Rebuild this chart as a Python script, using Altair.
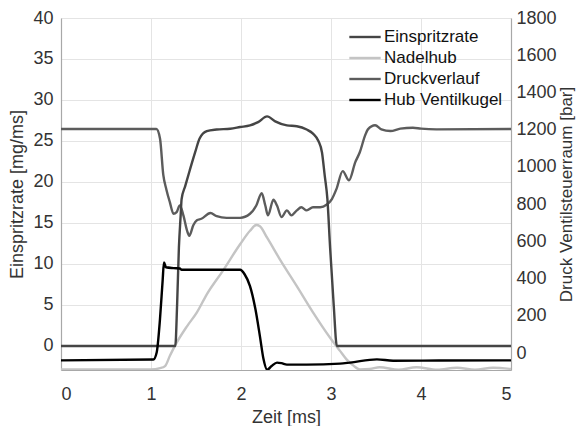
import altair as alt
import pandas as pd

# ---- data ----
series_names = ["Einspritzrate", "Nadelhub", "Druckverlauf", "Hub Ventilkugel"]
series_colors = ["#454545", "#c4c4c4", "#5c5c5c", "#000000"]

# Einspritzrate [mg/ms]
t_einspritz = [0.0, 1.27, 1.29, 1.31, 1.33, 1.34, 1.38, 1.43, 1.49, 1.54, 1.62, 1.73, 1.88, 1.99,
               2.10, 2.19, 2.29, 2.38, 2.51, 2.62, 2.73, 2.80, 2.86, 2.90, 2.93, 2.96, 2.99, 3.03,
               3.065, 3.5, 5.0]
v_einspritz = [0.0, 0.0, 5.0, 12.0, 16.0, 17.9, 19.5, 21.4, 23.6, 25.3, 26.2, 26.4, 26.5, 26.7,
               26.9, 27.3, 28.0, 27.4, 26.9, 26.8, 26.4, 25.9, 25.0, 23.6, 20.8, 17.9, 12.0, 5.0,
               0.0, 0.0, 0.0]

# Nadelhub (left axis units)
t_nadel = [0.0, 1.0, 1.10, 1.156, 1.21, 1.285, 1.40, 1.51, 1.62, 1.80, 1.99, 2.10, 2.17, 2.21,
           2.29, 2.43, 2.62, 2.80, 2.99, 3.10, 3.17, 3.25, 3.32, 3.43, 3.54, 3.75, 3.95, 4.18,
           4.40, 4.60, 4.80, 5.0]
v_nadel = [-2.85, -2.85, -2.7, -2.45, -1.2, 0.4, 2.4, 4.1, 6.3, 9.2, 12.4, 14.05, 14.75, 14.6,
           13.2, 10.6, 7.3, 4.1, 1.0, -0.6, -1.6, -2.4, -2.85, -2.8, -2.6, -2.9, -2.6, -2.9,
           -2.65, -2.9, -2.65, -2.8]

# Druckverlauf [bar] (right axis)
t_druck = [0.0, 1.06, 1.10, 1.137, 1.17, 1.21, 1.25, 1.285, 1.32, 1.36, 1.40, 1.425, 1.47, 1.51,
           1.56, 1.66, 1.73, 1.84, 1.99, 2.10, 2.17, 2.23, 2.27, 2.30, 2.36, 2.40, 2.45, 2.51,
           2.56, 2.62, 2.67, 2.73, 2.80, 2.88, 2.95, 3.01, 3.06, 3.13, 3.20, 3.27, 3.32, 3.38,
           3.41, 3.49, 3.56, 3.66, 3.77, 3.91, 4.00, 4.17, 5.0]
v_druck = [1204, 1204, 1153, 956, 881, 810, 749, 758, 793, 740, 659, 630, 687, 714,
           722, 753, 736, 727, 727, 749, 793, 859, 793, 740, 824, 793, 731, 767,
           740, 767, 784, 767, 784, 784, 797, 828, 881, 978, 929, 1026, 1079, 1171,
           1202, 1224, 1202, 1193, 1206, 1211, 1206, 1202, 1204]

# Hub Ventilkugel (left axis units)
t_hub = [0.0, 1.026, 1.063, 1.10, 1.13, 1.144, 1.167, 1.25, 1.32, 1.34, 1.62, 1.99, 2.04, 2.10,
         2.16, 2.21, 2.25, 2.29, 2.34, 2.40, 2.45, 2.51, 2.73, 3.10, 3.21, 3.51, 3.69, 4.2, 5.0]
v_hub = [-1.75, -1.65, -0.8, 3.3, 8.1, 10.2, 9.6, 9.5, 9.45, 9.3, 9.3, 9.3, 8.75, 7.3,
         4.5, 1.2, -1.6, -2.9, -2.44, -2.03, -2.1, -2.27, -2.27, -2.15, -2.03, -1.63, -1.8, -1.78, -1.75]

left_ticks = [0, 5, 10, 15, 20, 25, 30, 35, 40]
right_ticks = [0, 200, 400, 600, 800, 1000, 1200, 1400, 1600, 1800]
x_ticks = [0, 1, 2, 3, 4, 5]

LEFT_DOMAIN = [-2.93, 40]
RIGHT_DOMAIN = [-90, 1800]

def frame(t, v, name):
    return pd.DataFrame({"t": t, "v": v, "series": [name] * len(t)})

df_e = frame(t_einspritz, v_einspritz, "Einspritzrate")
df_n = frame(t_nadel, v_nadel, "Nadelhub")
df_d = frame(t_druck, v_druck, "Druckverlauf")
df_h = frame(t_hub, v_hub, "Hub Ventilkugel")

color = alt.Color("series:N", scale=alt.Scale(domain=series_names, range=series_colors),
                  title=None)

x_enc = alt.X("t:Q", scale=alt.Scale(domain=[0, 5], nice=False),
              axis=alt.Axis(values=x_ticks, title="Zeit [ms]", format="d",
                            titleY=52, titleBaseline="alphabetic"))

left_axis = alt.Axis(values=left_ticks, title="Einspritzrate [mg/ms]", orient="left",
                     grid=True, format="d")
right_axis = alt.Axis(values=right_ticks, title="Druck Ventilsteuerraum [bar]", orient="right",
                      grid=False, titleAngle=270, titleBaseline="top", format="d",
                      titleFontSize=17)

def left_line(df, axis):
    return alt.Chart(df).mark_line(strokeWidth=2.4, clip=True, interpolate="monotone").encode(
        x=x_enc,
        y=alt.Y("v:Q", scale=alt.Scale(domain=LEFT_DOMAIN, nice=False, zero=False), axis=axis),
        color=color,
    )

nadel = left_line(df_n, left_axis)
einspritz = left_line(df_e, None)
hub = left_line(df_h, None)
druck = alt.Chart(df_d).mark_line(strokeWidth=2.4, clip=True, interpolate="monotone").encode(
    x=x_enc,
    y=alt.Y("v:Q", scale=alt.Scale(domain=RIGHT_DOMAIN, nice=False, zero=False), axis=right_axis),
    color=color,
)

chart = alt.layer(nadel, druck, einspritz, hub).resolve_scale(y="independent").properties(
    width=450, height=352,
    autosize=alt.AutoSizeParams(type="none"),
    padding={"left": 53, "top": 10, "right": 68, "bottom": 56},
).configure(
    font="Liberation Sans",
).configure_view(
    stroke=None,
).configure_axis(
    labelFontSize=18, titleFontSize=18, labelColor="#333333", titleColor="#333333",
    titleFontWeight="normal", domainColor="#a8a8a8", domainWidth=1.2,
    gridColor="#e4e4e4", gridWidth=1, ticks=False, tickSize=0, labelPadding=8,
).configure_axisX(
    labelPadding=15,
).configure_axisLeft(
    titlePadding=6,
).configure_axisRight(
    titlePadding=2, labelPadding=5,
).configure_legend(
    orient="none", legendX=293, legendY=8, symbolType="M-1.6,0L1.6,0", symbolSize=384,
    symbolStrokeWidth=2.4, labelFontSize=17, labelColor="#111111", labelOffset=8,
    rowPadding=2, padding=0, labelLimit=300,
)

chart.save("out.html", embed_options={"renderer": "svg", "actions": False})
